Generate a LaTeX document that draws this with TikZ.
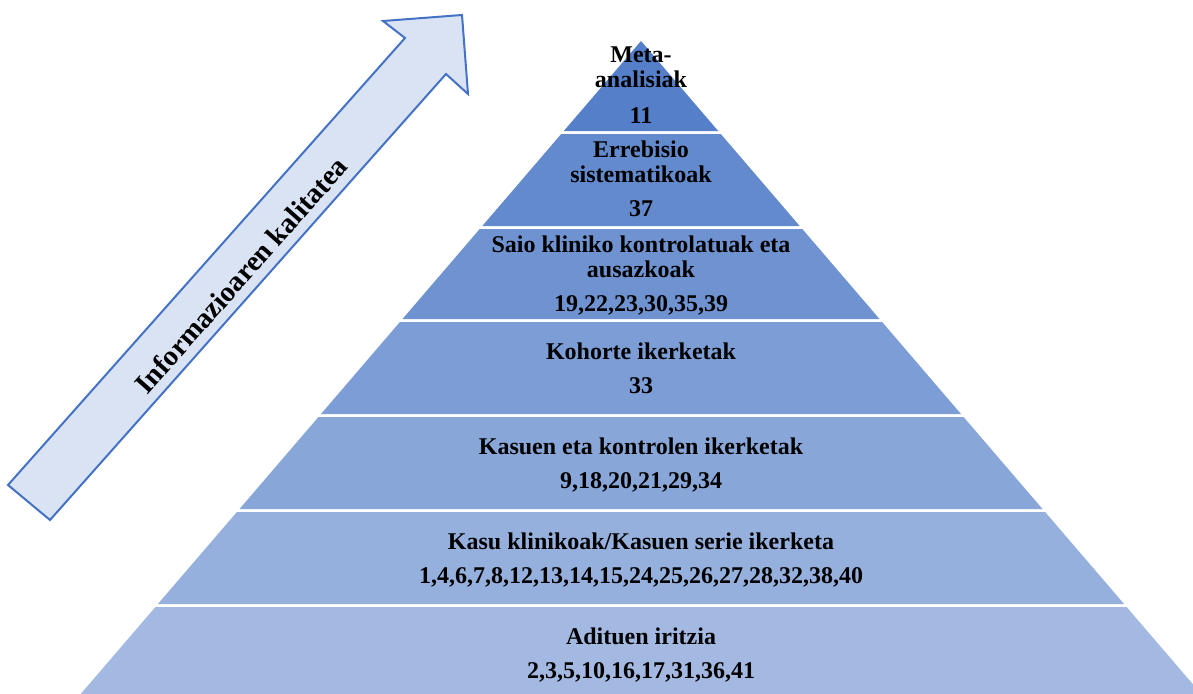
\documentclass[tikz,border=0pt]{standalone}
\usepackage{fontspec}
\setmainfont{Liberation Serif}
\definecolor{arrfill}{HTML}{DAE3F3}
\definecolor{arrline}{HTML}{4472C4}
\definecolor{lay1}{RGB}{85,128,201}
\definecolor{lay2}{RGB}{98,138,205}
\definecolor{lay3}{RGB}{111,147,209}
\definecolor{lay4}{RGB}{124,157,213}
\definecolor{lay5}{RGB}{137,166,217}
\definecolor{lay6}{RGB}{150,176,221}
\definecolor{lay7}{RGB}{163,185,225}
\begin{document}
\begin{tikzpicture}[x=1pt,y=-1pt,
  lbl/.style={anchor=base, inner sep=0pt, font=\bfseries\fontsize{24}{26}\selectfont, text=black},
  arrowtxt/.style={inner sep=0pt, font=\bfseries\fontsize{28.5}{30}\selectfont, text=black}]
\useasboundingbox (0,0) rectangle (1193,693);
\begin{scope}
\clip (0,0) rectangle (1193,693);
% pyramid layers
\fill[lay1] (641,41) -- (718.2,131) -- (563.8,131) -- cycle;
\fill[lay2] (561.2,134) -- (720.8,134) -- (799.7,226) -- (482.3,226) -- cycle;
\fill[lay3] (479.7,229) -- (802.3,229) -- (879.5,319) -- (402.5,319) -- cycle;
\fill[lay4] (399.9,322) -- (882.1,322) -- (961.0,414) -- (321.0,414) -- cycle;
\fill[lay5] (318.4,417) -- (963.6,417) -- (1042.5,509) -- (239.5,509) -- cycle;
\fill[lay6] (236.9,512) -- (1045.1,512) -- (1124.1,604) -- (157.9,604) -- cycle;
\fill[lay7] (155.4,607) -- (1126.6,607) -- (1205.6,699) -- (76.4,699) -- cycle;
\end{scope}
% arrow
\coordinate (t1) at (8,485);
\coordinate (s1) at (405,38);
\coordinate (h1) at (383,21);
\coordinate (tip) at (462,15);
\coordinate (h2) at (468,94);
\coordinate (s2) at (446,74);
\coordinate (t2) at (50,520);
\filldraw[fill=arrfill, draw=arrline, line width=2pt, line join=miter]
  (t1) -- (s1) -- (h1) -- (tip) -- (h2) -- (s2) -- (t2) -- cycle;
\node[arrowtxt, rotate=48.4] (arrlbl) at (241,275) {Informazioaren kalitatea};
% labels
\node[lbl] (l1a) at (641,63) {Meta-};
\node[lbl] (l1b) at (641,87) {analisiak};
\node[lbl] (l1c) at (641,123) {11};
\node[lbl] (l2a) at (641,157) {Errebisio};
\node[lbl] (l2b) at (641,182) {sistematikoak};
\node[lbl] (l2c) at (641,216) {37};
\node[lbl] (l3a) at (641,252) {Saio kliniko kontrolatuak eta};
\node[lbl] (l3b) at (641,277) {ausazkoak};
\node[lbl] (l3c) at (641,311) {19,22,23,30,35,39};
\node[lbl] (l4a) at (641,359) {Kohorte ikerketak};
\node[lbl] (l4c) at (641,393) {33};
\node[lbl] (l5a) at (641,454) {Kasuen eta kontrolen ikerketak};
\node[lbl] (l5c) at (641,488) {9,18,20,21,29,34};
\node[lbl] (l6a) at (641,549) {Kasu klinikoak/Kasuen serie ikerketa};
\node[lbl] (l6c) at (641,583) {1,4,6,7,8,12,13,14,15,24,25,26,27,28,32,38,40};
\node[lbl] (l7a) at (641,644) {Adituen iritzia};
\node[lbl] (l7c) at (641,678) {2,3,5,10,16,17,31,36,41};
\end{tikzpicture}
\end{document}
